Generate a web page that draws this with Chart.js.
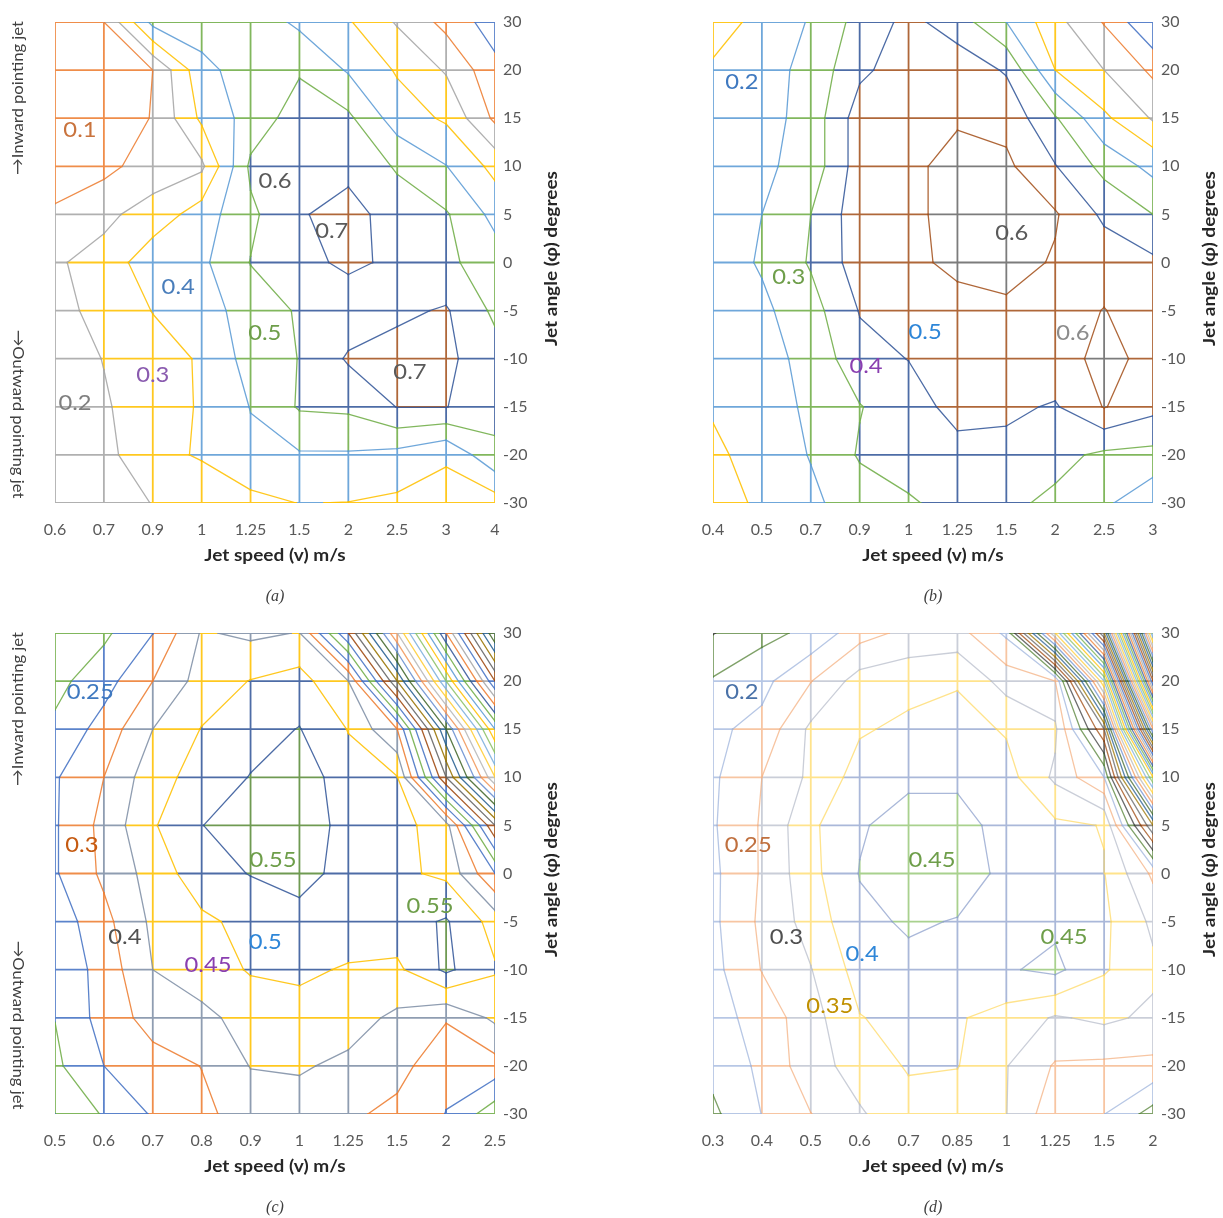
<!DOCTYPE html>
<html>
<head>
<meta charset="utf-8">
<script src="https://cdn.jsdelivr.net/npm/chart.js"></script>
<style>
  body { margin: 0; background: #fff; width: 1223px; height: 1218px; position: relative; overflow: hidden; }
  canvas { position: absolute; }
</style>
</head>
<body>
<canvas id="chartA" width="565" height="607" style="left:0;top:0"></canvas>
<canvas id="chartB" width="565" height="607" style="left:658px;top:0"></canvas>
<canvas id="chartC" width="565" height="607" style="left:0;top:611px"></canvas>
<canvas id="chartD" width="565" height="607" style="left:658px;top:611px"></canvas>
<script>
// jet angle tick labels, bottom to top
var angles = [-30, -20, -15, -10, -5, 0, 5, 10, 15, 20, 30];

var speedsA = ["0.6", "0.7", "0.9", "1", "1.25", "1.5", "2", "2.5", "3", "4"];
var speedsB = ["0.4", "0.5", "0.7", "0.9", "1", "1.25", "1.5", "2", "2.5", "3"];
var speedsC = ["0.5", "0.6", "0.7", "0.8", "0.9", "1", "1.25", "1.5", "2", "2.5"];
var speedsD = ["0.3", "0.4", "0.5", "0.6", "0.7", "0.85", "1", "1.25", "1.5", "2"];

// surface values, one row per angle from 30 (top) down to -30 (bottom)
var valuesA = [
  [0.15, 0.20, 0.53, 0.55, 0.56, 0.48, 0.41, 0.29, 0.17, 0.05],
  [0.15, 0.17, 0.20, 0.47, 0.55, 0.59, 0.49, 0.39, 0.29, 0.13],
  [0.13, 0.15, 0.204, 0.42, 0.54, 0.65, 0.62, 0.45, 0.386, 0.18],
  [0.13, 0.17, 0.25, 0.28, 0.62, 0.65, 0.67, 0.59, 0.503, 0.37],
  [0.22, 0.28, 0.337, 0.45, 0.58, 0.69, 0.74, 0.65, 0.61, 0.47],
  [0.29, 0.33, 0.47, 0.48, 0.603, 0.67, 0.72, 0.68, 0.62, 0.55],
  [0.27, 0.33, 0.403, 0.45, 0.55, 0.61, 0.64, 0.68, 0.71, 0.58],
  [0.25, 0.303, 0.36, 0.41, 0.54, 0.603, 0.712, 0.74, 0.72, 0.64],
  [0.23, 0.29, 0.35, 0.41, 0.503, 0.61, 0.62, 0.703, 0.703, 0.63],
  [0.21, 0.27, 0.37, 0.41, 0.48, 0.49, 0.49, 0.47, 0.41, 0.58],
  [0.21, 0.25, 0.303, 0.33, 0.37, 0.402, 0.398, 0.38, 0.37, 0.35]
];
var valuesB = [
  [0.17, 0.22, 0.31, 0.435, 0.528, 0.45, 0.30, 0.133, -0.007, -0.20],
  [0.21, 0.26, 0.33, 0.48, 0.55, 0.56, 0.49, 0.20, 0.10, -0.02],
  [0.22, 0.26, 0.34, 0.55, 0.57, 0.59, 0.57, 0.41, 0.22, 0.09],
  [0.23, 0.28, 0.34, 0.55, 0.58, 0.63, 0.62, 0.505, 0.37, 0.27],
  [0.24, 0.30, 0.40, 0.56, 0.58, 0.63, 0.65, 0.61, 0.48, 0.40],
  [0.25, 0.31, 0.41, 0.55, 0.58, 0.62, 0.64, 0.59, 0.56, 0.52],
  [0.23, 0.28, 0.36, 0.505, 0.55, 0.57, 0.58, 0.56, 0.603, 0.55],
  [0.22, 0.27, 0.325, 0.47, 0.502, 0.55, 0.56, 0.57, 0.62, 0.58],
  [0.21, 0.26, 0.315, 0.395, 0.46, 0.53, 0.52, 0.49, 0.605, 0.53],
  [0.18, 0.24, 0.305, 0.41, 0.44, 0.47, 0.47, 0.43, 0.38, 0.37],
  [0.15, 0.22, 0.28, 0.35, 0.39, 0.43, 0.42, 0.38, 0.32, 0.22]
];
var valuesC = [
  [0.26, 0.29, 0.349, 0.455, 0.44, 0.452, 0.20, -0.15, -0.55, -0.95],
  [0.285, 0.33, 0.40, 0.47, 0.502, 0.52, 0.45, 0.10, -0.30, -0.70],
  [0.31, 0.37, 0.45, 0.502, 0.53, 0.552, 0.498, 0.40, 0.0, -0.40],
  [0.345, 0.40, 0.48, 0.52, 0.552, 0.58, 0.52, 0.502, 0.15, -0.20],
  [0.345, 0.415, 0.495, 0.548, 0.60, 0.60, 0.52, 0.52, 0.47, 0.15],
  [0.345, 0.41, 0.47, 0.53, 0.552, 0.57, 0.53, 0.51, 0.49, 0.35],
  [0.32, 0.385, 0.46, 0.49, 0.515, 0.53, 0.53, 0.53, 0.555, 0.48],
  [0.31, 0.37, 0.45, 0.47, 0.505, 0.51, 0.495, 0.49, 0.56, 0.505],
  [0.301, 0.37, 0.42, 0.44, 0.465, 0.48, 0.47, 0.44, 0.405, 0.46],
  [0.29, 0.35, 0.38, 0.401, 0.452, 0.455, 0.44, 0.42, 0.36, 0.38],
  [0.25, 0.305, 0.355, 0.39, 0.42, 0.43, 0.41, 0.385, 0.349, 0.27]
];
var valuesD = [
  [0.148, 0.185, 0.212, 0.28, 0.313, 0.32, 0.24, -0.30, -0.90, -2.20],
  [0.205, 0.235, 0.298, 0.372, 0.385, 0.395, 0.33, 0.30, -0.35, -1.70],
  [0.24, 0.265, 0.36, 0.395, 0.41, 0.42, 0.395, 0.36, 0.05, -1.10],
  [0.242, 0.30, 0.36, 0.42, 0.44, 0.44, 0.42, 0.34, 0.25, -0.45],
  [0.245, 0.305, 0.39, 0.445, 0.47, 0.47, 0.43, 0.41, 0.398, 0.0],
  [0.24, 0.305, 0.385, 0.452, 0.48, 0.47, 0.44, 0.43, 0.402, 0.29],
  [0.24, 0.31, 0.37, 0.44, 0.455, 0.448, 0.43, 0.44, 0.41, 0.34],
  [0.235, 0.302, 0.348, 0.42, 0.44, 0.44, 0.445, 0.462, 0.405, 0.36],
  [0.23, 0.27, 0.33, 0.398, 0.415, 0.405, 0.38, 0.345, 0.36, 0.34],
  [0.215, 0.26, 0.33, 0.37, 0.405, 0.402, 0.352, 0.295, 0.29, 0.288],
  [0.19, 0.251, 0.299, 0.345, 0.38, 0.37, 0.351, 0.267, 0.251, 0.18]
];

// contour levels (upper edge of each colour band)
var levelsA = [0.1, 0.2, 0.3, 0.4, 0.5, 0.6, 0.7];
var levelsB = [-0.1, 0, 0.1, 0.2, 0.3, 0.4, 0.5, 0.6];
var levelsC = steps(-1.0, 0.55, 0.05);
var levelsD = steps(-2.3, 0.45, 0.05);

// region labels written on each panel
var textsA = ["0.1", "0.6", "0.7", "0.4", "0.5", "0.3", "0.7", "0.2"];
var textsB = ["0.2", "0.6", "0.3", "0.5", "0.6", "0.4"];
var textsC = ["0.25", "0.3", "0.55", "0.55", "0.4", "0.5", "0.45"];
var textsD = ["0.2", "0.25", "0.45", "0.3", "0.4", "0.45", "0.35"];

// where those labels sit, in (speed index, angle index)
var spotsA = [[0.51, 7.75], [4.5, 6.7], [5.66, 5.65], [2.52, 4.49], [4.29, 3.53], [2.0, 2.66], [7.26, 2.72], [0.41, 2.08]];
var spotsB = [[0.59, 8.75], [6.11, 5.61], [1.55, 4.7], [4.34, 3.56], [7.36, 3.53], [3.13, 2.85]];
var spotsC = [[0.72, 8.78], [0.55, 5.6], [4.46, 5.29], [7.67, 4.32], [1.43, 3.69], [4.3, 3.57], [3.13, 3.09]];
var spotsD = [[0.59, 8.78], [0.72, 5.6], [4.48, 5.29], [1.5, 3.69], [3.05, 3.32], [7.18, 3.69], [2.39, 2.24]];

function steps(lo, hi, step) {
  var out = [];
  for (var v = lo; v <= hi + 1e-9; v += step) out.push(Math.round(v * 100) / 100);
  return out;
}

var cycle = ["#FFC000", "#5B9BD5", "#70AD47", "#34589A", "#ED7D31", "#A5A5A5", "#4472C4", "#9E480E",
  "#636363", "#997300", "#255E91", "#43682B", "#698ED0", "#F1975A", "#B7B7B7", "#FFCD33", "#7CAFDD", "#8CC168"];

function colorsFor(levels, named) {
  return levels.map(function (L, k) {
    return named[L.toFixed(2)] || cycle[(levels.length - 1 - k) % cycle.length];
  });
}

var colorsA = ["#4472C4", "#ED7D31", "#A5A5A5", "#FFC000", "#5B9BD5", "#70AD47", "#34589A"];
var colorsB = ["#4472C4", "#ED7D31", "#A5A5A5", "#FFC000", "#5B9BD5", "#70AD47", "#34589A", "#A4521E"];
var colorsC = colorsFor(levelsC, {
  "0.30": "#70AD47", "0.35": "#4472C4", "0.40": "#ED7D31", "0.45": "#7F8FA6", "0.50": "#FFC000", "0.55": "#34589A"
});
var colorsD = colorsFor(levelsD, {
  "0.15": "#3B3B3B", "0.20": "#548235", "0.25": "#9FB4DC", "0.30": "#F4B183", "0.35": "#B8BDCB", "0.40": "#FFD966", "0.45": "#8EA0CC"
});

function fade(hex, a) {
  var n = parseInt(hex.slice(1), 16);
  return "rgba(" + (n >> 16) + "," + ((n >> 8) & 255) + "," + (n & 255) + "," + a + ")";
}

// marching squares on the grid: contour segments plus band-coloured grid lines
function buildLines(rows, levels, colors, topColor) {
  var g = rows.slice().reverse();
  var ny = g.length, nx = g[0].length;
  var eps = 1e-6;
  var grid = {}, contour = {};

  function add(store, color, p, q) {
    if (!store[color]) store[color] = [];
    store[color].push({ x: p[0], y: p[1] }, { x: q[0], y: q[1] }, { x: NaN, y: NaN });
  }
  function band(v) {
    for (var k = 0; k < levels.length; k++) if (levels[k] + eps > v) return colors[k];
    return topColor;
  }
  function lerp(p, q, t) {
    return [p[0] + (q[0] - p[0]) * t, p[1] + (q[1] - p[1]) * t];
  }
  function edge(va, vb, p, q) {
    var ts = [0, 1];
    levels.forEach(function (L) {
      var l = L + eps;
      if ((va - l) * (vb - l) < 0) ts.push((l - va) / (vb - va));
    });
    ts.sort(function (a, b) { return a - b; });
    for (var k = 0; k < ts.length - 1; k++) {
      var tm = (ts[k] + ts[k + 1]) / 2;
      add(grid, band(va + (vb - va) * tm), lerp(p, q, ts[k]), lerp(p, q, ts[k + 1]));
    }
  }

  var i, j;
  for (j = 0; j < ny; j++) {
    for (i = 0; i < nx - 1; i++) edge(g[j][i], g[j][i + 1], [i, j], [i + 1, j]);
  }
  for (i = 0; i < nx; i++) {
    for (j = 0; j < ny - 1; j++) edge(g[j][i], g[j + 1][i], [i, j], [i, j + 1]);
  }

  for (j = 0; j < ny - 1; j++) {
    for (i = 0; i < nx - 1; i++) {
      var a = g[j][i], b = g[j][i + 1], c = g[j + 1][i + 1], d = g[j + 1][i];
      levels.forEach(function (L, k) {
        var l = L + eps;
        function cross(v0, v1, p0, p1) {
          if ((v0 - l) * (v1 - l) < 0) return lerp(p0, p1, (l - v0) / (v1 - v0));
          return null;
        }
        var e0 = cross(a, b, [i, j], [i + 1, j]);
        var e1 = cross(b, c, [i + 1, j], [i + 1, j + 1]);
        var e2 = cross(d, c, [i, j + 1], [i + 1, j + 1]);
        var e3 = cross(a, d, [i, j], [i, j + 1]);
        var list = [e0, e1, e2, e3].filter(Boolean);
        if (list.length === 2) {
          add(contour, colors[k], list[0], list[1]);
        } else if (list.length === 4) {
          var centreAbove = (a + b + c + d) / 4 > l;
          if ((a > l) === centreAbove) {
            add(contour, colors[k], e0, e1);
            add(contour, colors[k], e2, e3);
          } else {
            add(contour, colors[k], e0, e3);
            add(contour, colors[k], e1, e2);
          }
        }
      });
    }
  }
  return { grid: grid, contour: contour };
}

var fontFamily = "Lato, 'DejaVu Sans', sans-serif";

// text drawn slightly widened, like the reference
function wideText(ctx, text, x, y, rot, stretch) {
  ctx.save();
  ctx.translate(x, y);
  ctx.rotate(rot);
  ctx.scale(stretch, 1);
  ctx.fillText(text, 0, 0);
  ctx.restore();
}

var panelText = {
  id: "panelText",
  afterDatasetsDraw: function (chart, args, opts) {
    var ctx = chart.ctx, area = chart.chartArea;
    var xs = chart.scales.x, ys = chart.scales.y;
    var cx = (area.left + area.right) / 2;
    ctx.save();
    ctx.textAlign = "center";
    ctx.textBaseline = "middle";
    ctx.font = "22px " + fontFamily;
    opts.texts.forEach(function (t, k) {
      ctx.fillStyle = opts.colors[k];
      wideText(ctx, t, xs.getPixelForValue(opts.spots[k][0]), ys.getPixelForValue(opts.spots[k][1]), 0, 1.08);
    });
    ctx.fillStyle = "#262626";
    ctx.font = "bold 17px " + fontFamily;
    wideText(ctx, "Jet speed (v) m/s", cx, area.bottom + 53, 0, 1.12);
    wideText(ctx, "Jet angle (\u03c6) degrees", area.right + 57, (area.top + area.bottom) / 2 - 4, -Math.PI / 2, 1.12);

    ctx.fillStyle = "#404040";
    ctx.font = "italic 16px 'Liberation Serif', serif";
    ctx.fillText(opts.caption, cx, area.bottom + 94);

    if (opts.notes) {
      ctx.fillStyle = "#404040";
      ctx.font = "16px " + fontFamily;
      wideText(ctx, "\u2192Inward pointing jet", area.left - 37, area.top + 76, -Math.PI / 2, 1.04);
      wideText(ctx, "\u2192Outward pointing jet", area.left - 37, area.top + 392, Math.PI / 2, 1.04);
    }
    ctx.restore();
  }
};

function makeChart(id, speeds, rows, levels, colors, topColor, texts, spots, textColors, caption, notes, alpha) {
  var lines = buildLines(rows, levels, colors, topColor);
  var datasets = [];
  Object.keys(lines.grid).forEach(function (col) {
    datasets.push({ data: lines.grid[col], borderColor: fade(col, alpha), borderWidth: 1.8, order: 2 });
  });
  Object.keys(lines.contour).forEach(function (col) {
    datasets.push({ data: lines.contour[col], borderColor: fade(col, alpha), borderWidth: 1.3, order: 1 });
  });

  return new Chart(document.getElementById(id), {
    type: "line",
    data: { datasets: datasets },
    options: {
      responsive: false,
      animation: false,
      spanGaps: false,
      elements: {
        point: { radius: 0, hoverRadius: 0 },
        line: { tension: 0, fill: false, borderCapStyle: "round", borderJoinStyle: "round" }
      },
      layout: { padding: { left: 55, top: 22, right: 0, bottom: 0 } },
      plugins: {
        legend: { display: false },
        tooltip: { enabled: false },
        panelText: { texts: texts, spots: spots, colors: textColors, caption: caption, notes: notes }
      },
      scales: {
        x: {
          type: "linear", min: 0, max: 9,
          grid: { display: false, drawTicks: false },
          border: { display: false },
          ticks: {
            stepSize: 1, autoSkip: false, maxRotation: 0, padding: 17,
            color: "#595959", font: { family: fontFamily, size: 16 },
            callback: function (v) { return speeds[Math.round(v)]; }
          },
          afterFit: function (s) { s.height = 104; }
        },
        y: {
          type: "linear", position: "right", min: 0, max: 10,
          grid: { display: false, drawTicks: false },
          border: { display: false },
          ticks: {
            stepSize: 1, autoSkip: false, padding: 8,
            color: "#595959", font: { family: fontFamily, size: 16 },
            callback: function (v) { return angles[Math.round(v)]; }
          },
          afterFit: function (s) { s.width = 70; }
        }
      }
    },
    plugins: [panelText]
  });
}

makeChart("chartA", speedsA, valuesA, levelsA, colorsA, "#A4521E", textsA, spotsA,
  ["#C9733D", "#5A5A5A", "#5A5A5A", "#4A7EBB", "#6E9E4A", "#8A5BAF", "#5A5A5A", "#7F7F7F"], "(a)", true, 0.88);
makeChart("chartB", speedsB, valuesB, levelsB, colorsB, "#6A6A6A", textsB, spotsB,
  ["#3F79C0", "#5A5A5A", "#6E9E4A", "#2E86D8", "#8C8C8C", "#8A3FB0"], "(b)", false, 0.88);
makeChart("chartC", speedsC, valuesC, levelsC, colorsC, "#5B8C3A", textsC, spotsC,
  ["#3F79C0", "#C55A11", "#6E9E4A", "#6E9E4A", "#505050", "#2E86D8", "#8A3FB0"], "(c)", true, 0.88);
makeChart("chartD", speedsD, valuesD, levelsD, colorsD, "#8CC168", textsD, spotsD,
  ["#4A72A8", "#C0703F", "#6E9E4A", "#505050", "#2E86D8", "#6E9E4A", "#C09000"], "(d)", false, 0.75);
</script>
</body>
</html>
